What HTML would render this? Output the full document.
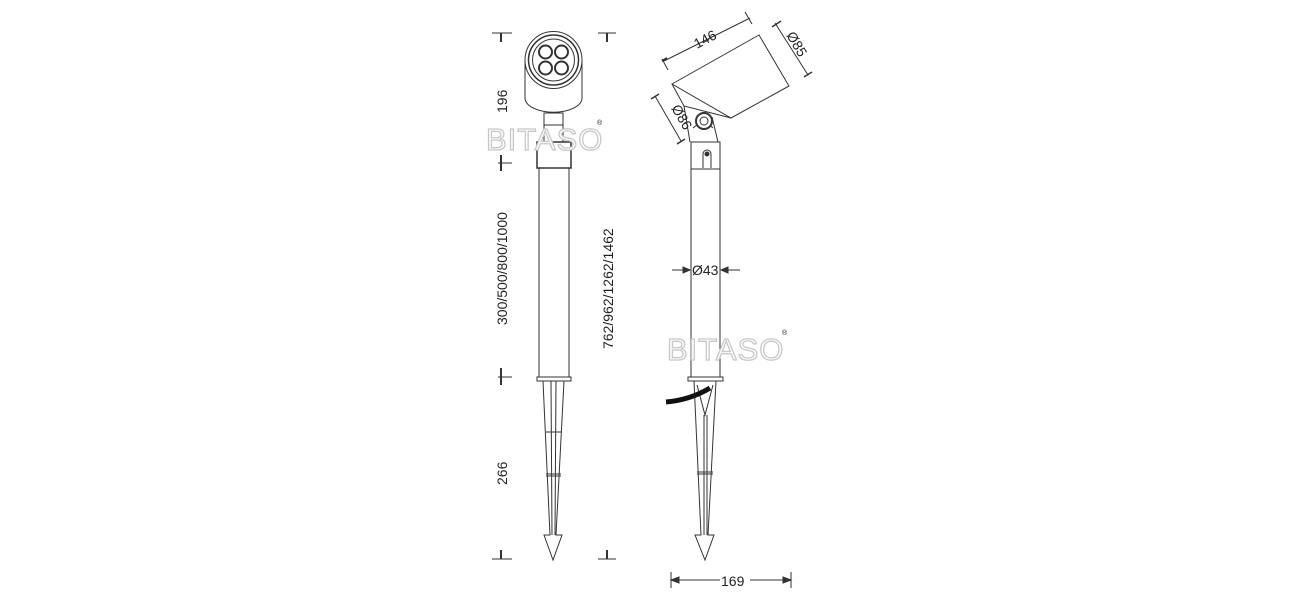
<!DOCTYPE html>
<html><head><meta charset="utf-8"><style>
html,body{margin:0;padding:0;background:#fff;}
svg{display:block;}
text{font-family:"Liberation Sans",sans-serif;fill:#222;}
.w{font-family:"Liberation Sans",sans-serif;font-size:31px;fill:#fff;stroke:#c8c8c8;stroke-width:1.3;letter-spacing:1px;}
</style></head><body>
<svg width="1300" height="600" viewBox="0 0 1300 600" xmlns="http://www.w3.org/2000/svg">
<g fill="none" stroke="#333" stroke-width="1">
<!-- LEFT VIEW -->
<path d="M525 60 V98 A28 14 0 0 0 582 98 V60" fill="#fff"/>
<circle cx="553.5" cy="60" r="28.5" fill="#fff"/>
<circle cx="553.5" cy="60" r="25" stroke-width="1.5"/>
<circle cx="553.5" cy="60" r="21"/>
<g stroke-width="2"><circle cx="545.5" cy="52" r="6.5"/><circle cx="561.5" cy="52" r="6.5"/>
<circle cx="545.5" cy="68" r="6.5"/><circle cx="561.5" cy="68" r="6.5"/></g>
<rect x="544" y="113" width="19" height="29"/>
<line x1="544" y1="125" x2="563" y2="125"/>
<rect x="537" y="142" width="34" height="26" stroke-width="1.5"/>
<line x1="539" y1="168" x2="539" y2="377"/><line x1="569" y1="168" x2="569" y2="377"/>
<rect x="537" y="377" width="34" height="4"/>
<path d="M543 381 L550 535 L544 535 L553 560 L562 535 L556 535 L564 381"/>
<line x1="551" y1="381" x2="552" y2="535"/><line x1="556" y1="381" x2="555" y2="535"/>
<line x1="546" y1="432" x2="562" y2="432"/><line x1="546" y1="474" x2="561" y2="474"/><line x1="546" y1="476" x2="561" y2="476"/>
<!-- left dims -->
<line x1="492" y1="33" x2="512" y2="33"/><line x1="501" y1="33" x2="501" y2="42" stroke-width="2"/>
<line x1="498" y1="163" x2="512" y2="163"/><line x1="501" y1="155" x2="501" y2="171" stroke-width="2"/>
<line x1="498" y1="377" x2="512" y2="377"/><line x1="501" y1="368" x2="501" y2="385" stroke-width="2"/>
<line x1="492" y1="559" x2="512" y2="559"/><line x1="501" y1="550" x2="501" y2="559" stroke-width="2"/>
<line x1="598" y1="33" x2="616" y2="33"/><line x1="607" y1="33" x2="607" y2="42" stroke-width="2"/>
<line x1="598" y1="559" x2="616" y2="559"/><line x1="607" y1="550" x2="607" y2="559" stroke-width="2"/>
<!-- RIGHT VIEW -->
<polygon points="672,84 759,35 789,86 731,118" fill="#fff"/>
<polyline points="672,84 684,106 731,118"/>
<path d="M684 106 L690 142 M712 117 L718 142 M693 128 L703 120 L713 128"/>
<circle cx="704" cy="121" r="8" fill="#fff" stroke-width="2"/>
<circle cx="704" cy="121" r="4"/>
<rect x="691" y="142" width="29" height="235"/>
<line x1="691" y1="169" x2="720" y2="169"/>
<path d="M703 168 V154 A4 4 0 0 1 711 154 V168"/>
<circle cx="707" cy="154" r="2" fill="#333"/>
<rect x="688" y="377" width="35" height="4"/>
<path d="M694 381 L701 535 L695 535 L705 560 L714 535 L708 535 L716 381"/>
<path d="M697 385 L705 415 L713 385 M704 415 L704 535 M707 415 L707 535"/>
<line x1="697" y1="472" x2="713" y2="472"/><line x1="697" y1="474" x2="713" y2="474"/>
<path d="M666 402 Q690 400 710 388" stroke="#111" stroke-width="5"/>
<!-- right dims -->
<line x1="672" y1="270" x2="690" y2="270"/><line x1="721" y1="270" x2="740" y2="270"/>
<path d="M690 270 l-7 -3 v6z M721 270 l7 -3 v6z" fill="#333"/>
<line x1="671" y1="572" x2="671" y2="588"/><line x1="791" y1="572" x2="791" y2="588"/>
<line x1="671" y1="580" x2="720" y2="580"/><line x1="750" y1="580" x2="791" y2="580"/>
<path d="M671 580 l8 -3 v6z M791 580 l-8 -3 v6z" fill="#333"/>
<line x1="662" y1="59" x2="668" y2="70"/><line x1="662" y1="61" x2="667" y2="58" stroke-width="2"/>
<line x1="664" y1="61" x2="750" y2="18"/><line x1="745" y1="12" x2="752" y2="24"/>
<line x1="775" y1="23" x2="808" y2="75"/><line x1="772" y1="27" x2="781" y2="21" stroke-width="1.5"/><line x1="804" y1="77" x2="812" y2="72" stroke-width="1.5"/>
<line x1="655" y1="96" x2="681" y2="141"/><line x1="651" y1="99" x2="659" y2="94" stroke-width="1.5"/><line x1="677" y1="144" x2="685" y2="139" stroke-width="1.5"/>
</g>
<text x="0" y="0" font-size="14" transform="translate(507,113) rotate(-90)">196</text>
<text x="0" y="0" font-size="14" transform="translate(507,325) rotate(-90)">300/500/800/1000</text>
<text x="0" y="0" font-size="14" transform="translate(507,485) rotate(-90)">266</text>
<text x="0" y="0" font-size="14" transform="translate(613,349) rotate(-90)">762/962/1262/1462</text>
<text x="0" y="0" font-size="14" transform="translate(697,49) rotate(-28)">146</text>
<text x="0" y="0" font-size="14" transform="translate(786,35) rotate(60)">Ø85</text>
<text x="0" y="0" font-size="14" transform="translate(671,108) rotate(60)">Ø86</text>
<text x="692" y="275" font-size="14">Ø43</text>
<text x="721" y="586" font-size="14">169</text>
<text class="w" x="486" y="150">BITASO</text>
<text x="597" y="125" font-size="7" fill="#bbb">®</text>
<text class="w" x="667" y="360">BITASO</text>
<text x="782" y="335" font-size="7" fill="#bbb">®</text>
</svg>
</body></html>
